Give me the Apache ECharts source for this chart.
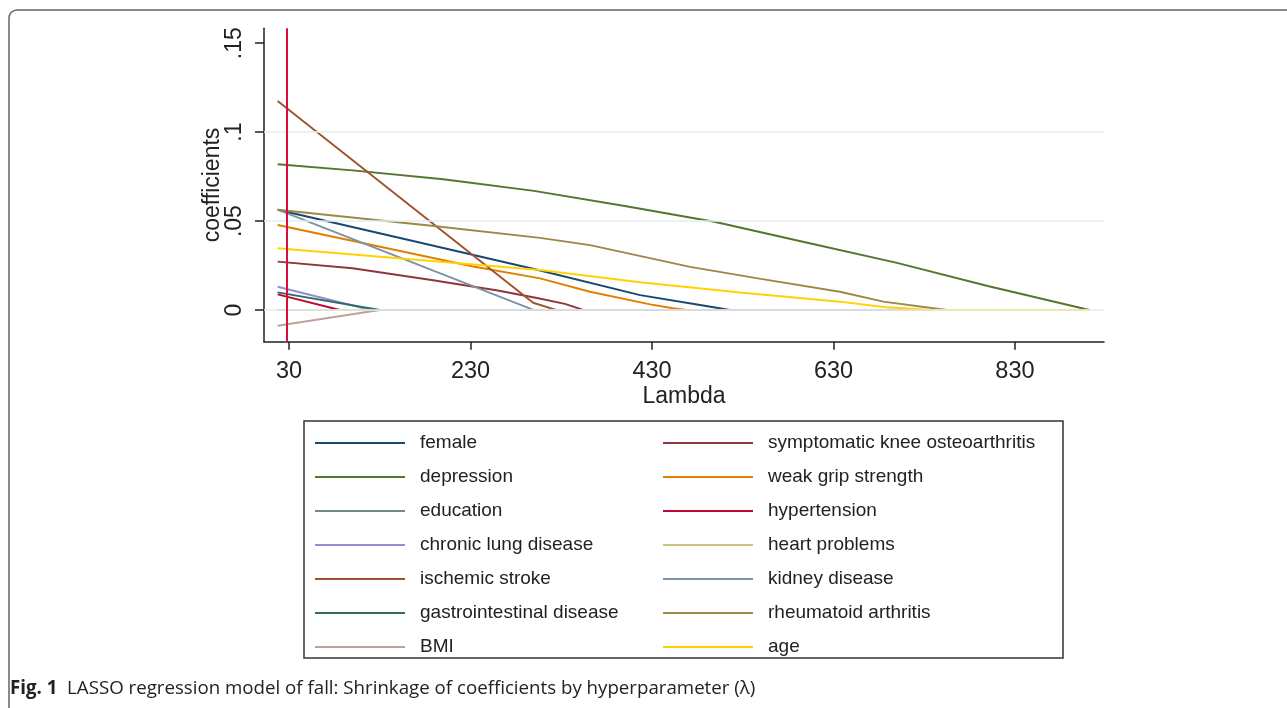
<!DOCTYPE html>
<html>
<head>
<meta charset="utf-8">
<script src="https://cdn.jsdelivr.net/npm/echarts@6/dist/echarts.min.js"></script>
<style>
  html, body { margin: 0; padding: 0; background: #fff; }
  #main { width: 1287px; height: 708px; }
</style>
</head>
<body>
<div id="main"></div>
<script>
// lasso paths, [lambda, coefficient]
var female = [[17.5, 0.0564], [150, 0.0408], [300, 0.0231], [417, 0.0084], [483, 0.0028], [516, 0], [912, 0]];
var kneeOA = [[17.5, 0.0272], [100, 0.0235], [187, 0.0169], [260, 0.011], [306, 0.0065], [334, 0.0035], [355, 0], [912, 0]];
var depression = [[17.5, 0.082], [100, 0.0785], [200, 0.0735], [300, 0.067], [400, 0.0585], [500, 0.0495], [600, 0.038], [700, 0.0265], [800, 0.0135], [912, 0]];
var weakGrip = [[17.5, 0.0478], [233, 0.0245], [306.6, 0.0178], [361.7, 0.0103], [428, 0.0032], [453, 0.001], [468, 0], [912, 0]];
var education = [[17.5, 0], [912, 0]];
var hypertension = [[17.5, 0.0088], [86, 0], [912, 0]];
var chronicLung = [[17.5, 0.0131], [120, 0], [912, 0]];
var heart = [[17.5, 0], [912, 0]];
var ischemic = [[17.5, 0.1175], [299, 0.0041], [325, 0], [912, 0]];
var kidney = [[17.5, 0.0564], [300, 0], [912, 0]];
var gastro = [[17.5, 0.00995], [130, 0], [912, 0]];
var rheumatoid = [[17.5, 0.0564], [187, 0.0474], [306.6, 0.0406], [361.7, 0.0365], [472, 0.0243], [550, 0.0175], [637, 0.0103], [685, 0.0047], [740, 0.001], [755, 0], [912, 0]];
var bmi = [[17.5, -0.0088], [130, 0], [912, 0]];
var age = [[17.5, 0.0347], [306.6, 0.0225], [416.8, 0.0156], [527, 0.0099], [637, 0.0047], [688, 0.0016], [740, 0], [912, 0]];

var names = ['female', 'symptomatic knee osteoarthritis', 'depression', 'weak grip strength',
  'education', 'hypertension', 'chronic lung disease', 'heart problems', 'ischemic stroke',
  'kidney disease', 'gastrointestinal disease', 'rheumatoid arthritis', 'BMI', 'age'];
var paths = [female, kneeOA, depression, weakGrip, education, hypertension, chronicLung,
  heart, ischemic, kidney, gastro, rheumatoid, bmi, age];
var colors = ['#1a476f', '#90353b', '#55752f', '#e37e00', '#6e8e84', '#c10534', '#938dd2',
  '#cac27e', '#a0522d', '#7b92a8', '#2d6d66', '#9c8847', '#bfa19c', '#ffd200'];

var xTicks = [30, 230, 430, 630, 830];
var yTicks = [0, 0.05, 0.1, 0.15];
var gridValues = [0, 0.05, 0.1];
var cvLambda = 27;

var font = 'Liberation Sans';
var chart = echarts.init(document.getElementById('main'));

var series = [{
  name: 'grid', type: 'line', data: [], z: 0, silent: true,
  markLine: {
    symbol: 'none', silent: true, label: { show: false },
    lineStyle: { color: '#e4eef2', width: 1.5, type: 'solid' },
    data: gridValues.map(function (v) { return { yAxis: v }; })
  }
}];
names.forEach(function (n, i) {
  series.push({
    name: n, type: 'line', data: paths[i], color: colors[i],
    symbol: 'none', showSymbol: false, silent: true,
    lineStyle: { width: 1.9, color: colors[i] }
  });
});
series.push({
  name: 'cv', type: 'line', data: [], z: 10, silent: true,
  markLine: {
    symbol: 'none', silent: true, label: { show: false },
    lineStyle: { color: '#d6103c', width: 2, type: 'solid' },
    data: [{ xAxis: cvLambda }]
  }
});

function legendFor(list, left) {
  return {
    data: list, orient: 'vertical', left: left, top: 433,
    icon: 'rect', itemWidth: 90, itemHeight: 2, itemGap: 14,
    selectedMode: false, padding: 0,
    textStyle: { fontFamily: font, fontSize: 19, lineHeight: 20, color: '#222', padding: [0, 0, 0, 10] }
  };
}

var option = {
  animation: false,
  backgroundColor: '#fff',
  grid: { left: 264, right: 183, top: 28.3, bottom: 366.3, containLabel: false },
  xAxis: {
    type: 'value', min: 2.45, max: 928.1,
    name: 'Lambda', nameLocation: 'middle', nameGap: 43, nameMoveOverlap: false,
    nameTextStyle: { fontFamily: font, fontSize: 23, color: '#222' },
    axisLine: { show: true, onZero: false, lineStyle: { color: '#222', width: 1.5 } },
    axisTick: { show: true, length: 8, customValues: xTicks, lineStyle: { color: '#222', width: 1.5 } },
    axisLabel: { customValues: xTicks, fontFamily: font, fontSize: 23.5, color: '#222', margin: 18 },
    splitLine: { show: false }
  },
  yAxis: {
    type: 'value', min: -0.0178, max: 0.1584,
    name: 'coefficients', nameLocation: 'middle', nameGap: 40, nameMoveOverlap: false,
    nameTextStyle: { fontFamily: font, fontSize: 23, color: '#222' },
    axisLine: { show: true, onZero: false, lineStyle: { color: '#222', width: 1.5 } },
    axisTick: { show: true, length: 9, customValues: yTicks, lineStyle: { color: '#222', width: 1.5 } },
    axisLabel: {
      customValues: yTicks, rotate: 90, margin: 18,
      fontFamily: font, fontSize: 23, color: '#222',
      formatter: function (v) { return v === 0 ? '0' : String(v).replace(/^0/, ''); }
    },
    splitLine: { show: false }
  },
  legend: [
    legendFor(names.filter(function (n, i) { return i % 2 === 0; }), 315),
    legendFor(names.filter(function (n, i) { return i % 2 === 1; }), 663)
  ],
  graphic: [
    {
      type: 'rect', silent: true, z: 100,
      shape: { x: 9, y: 10, width: 1300, height: 720, r: 8 },
      style: { fill: 'none', stroke: '#666', lineWidth: 1.5 }
    },
    {
      type: 'rect', silent: true,
      shape: { x: 304, y: 421, width: 759, height: 237 },
      style: { fill: 'none', stroke: '#333', lineWidth: 1.5 }
    },
    {
      type: 'text', silent: true, left: 10, top: 679,
      style: {
        text: '{b|Fig. 1}  LASSO regression model of fall: Shrinkage of coefficients by hyperparameter (λ)',
        fontFamily: 'Open Sans', fontSize: 18.7, fill: '#222',
        rich: { b: { fontFamily: 'Open Sans', fontSize: 18.7, fontWeight: 'bold', fill: '#222' } }
      }
    }
  ],
  series: series
};

chart.setOption(option);
</script>
</body>
</html>
